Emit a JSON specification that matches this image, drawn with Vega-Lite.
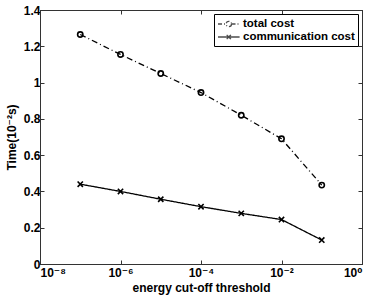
{
  "$schema": "https://vega.github.io/schema/vega-lite/v6.json",
  "width": 322,
  "height": 254,
  "autosize": {"type": "none"},
  "padding": {"left": 40, "top": 10, "right": 12, "bottom": 33},
  "config": {
    "font": "Liberation Sans",
    "view": {"stroke": "#333", "strokeWidth": 1},
    "axis": {
      "labelFont": "Liberation Sans, DejaVu Sans", "labelFontWeight": "bold", "labelFontSize": 12, "labelColor": "#000",
      "titleFont": "Liberation Sans, DejaVu Sans", "titleFontWeight": "bold", "titleFontSize": 12, "titleColor": "#000",
      "domainColor": "#333", "tickColor": "#333", "tickSize": -4, "grid": false, "labelPadding": 4
    }
  },
  "data": {"values": [
    {"series": "total cost", "threshold": 1e-7, "time": 1.265},
    {"series": "total cost", "threshold": 1e-6, "time": 1.155},
    {"series": "total cost", "threshold": 1e-5, "time": 1.05},
    {"series": "total cost", "threshold": 1e-4, "time": 0.945},
    {"series": "total cost", "threshold": 1e-3, "time": 0.82},
    {"series": "total cost", "threshold": 1e-2, "time": 0.69},
    {"series": "total cost", "threshold": 1e-1, "time": 0.435},
    {"series": "communication cost", "threshold": 1e-7, "time": 0.44},
    {"series": "communication cost", "threshold": 1e-6, "time": 0.40},
    {"series": "communication cost", "threshold": 1e-5, "time": 0.357},
    {"series": "communication cost", "threshold": 1e-4, "time": 0.316},
    {"series": "communication cost", "threshold": 1e-3, "time": 0.279},
    {"series": "communication cost", "threshold": 1e-2, "time": 0.245},
    {"series": "communication cost", "threshold": 1e-1, "time": 0.132}
  ]},
  "resolve": {"axis": {"x": "independent", "y": "independent"}},
  "layer": [
    {
      "mark": {"type": "line", "color": "#000", "strokeWidth": 1.3},
      "encoding": {
        "x": {"field": "threshold", "type": "quantitative",
          "scale": {"type": "log", "domain": [1e-8, 1], "nice": false},
          "axis": {"title": "energy cut-off threshold", "values": [1e-8, 1e-6, 1e-4, 1e-2, 1], "titlePadding": 4, "labelPadding": 7,
            "labelExpr": "round(log(datum.value)/LN10) == -8 ? '10⁻⁸' : round(log(datum.value)/LN10) == -6 ? '10⁻⁶' : round(log(datum.value)/LN10) == -4 ? '10⁻⁴' : round(log(datum.value)/LN10) == -2 ? '10⁻²' : '10⁰'"}},
        "y": {"field": "time", "type": "quantitative",
          "scale": {"domain": [0, 1.4], "nice": false},
          "axis": {"title": "Time(10⁻²s)", "values": [0, 0.2, 0.4, 0.6, 0.8, 1, 1.2, 1.4], "format": "~g", "titlePadding": 5}},
        "detail": {"field": "series"},
        "strokeDash": {"condition": {"test": "datum.series === 'total cost'", "value": [6, 3, 1, 3]}, "value": [1, 0]}
      }
    },
    {
      "mark": {"type": "point", "filled": false, "color": "#000", "strokeWidth": 1.6, "opacity": 1},
      "encoding": {
        "x": {"field": "threshold", "type": "quantitative", "axis": {"orient": "top", "labels": false, "title": null, "values": [1e-8, 1e-6, 1e-4, 1e-2, 1]}},
        "y": {"field": "time", "type": "quantitative", "axis": {"orient": "right", "labels": false, "title": null, "values": [0, 0.2, 0.4, 0.6, 0.8, 1, 1.2, 1.4]}},
        "shape": {"condition": {"test": "datum.series === 'total cost'", "value": "circle"}, "value": "M-1,-1L1,1M-1,1L1,-1"},
        "size": {"value": 28}
      }
    },
    {
      "transform": [{"filter": "false"}],
      "mark": {"type": "point", "filled": false, "color": "#000", "strokeWidth": 1.3},
      "encoding": {
        "x": {"field": "threshold", "type": "quantitative", "axis": null},
        "y": {"field": "time", "type": "quantitative", "axis": null},
        "shape": {"field": "series", "type": "nominal",
          "scale": {"domain": ["total cost", "communication cost"],
            "range": ["M-1,0L0.35,0M1.25,0L2.6,0M1.25,0A0.45,0.45 0 1,1 0.35,0A0.45,0.45 0 1,1 1.25,0", "M-1,0L2.6,0M0.45,-0.35L1.15,0.35M0.45,0.35L1.15,-0.35"]},
          "legend": {
            "title": null, "orient": "top-right", "offset": 4,
            "strokeColor": "#000", "fillColor": "#fff", "padding": 3, "cornerRadius": 0,
            "labelFont": "Liberation Sans", "labelFontWeight": "bold", "labelFontSize": 11.5, "labelColor": "#000",
            "symbolSize": 144, "symbolStrokeColor": "#000", "symbolStrokeWidth": 1.3, "symbolFillColor": "transparent",
            "rowPadding": 0, "labelOffset": 12
          }
        },
        "strokeDash": {"field": "series", "type": "nominal",
          "scale": {"domain": ["total cost", "communication cost"], "range": [[4, 2, 1, 2], [1, 0]]}}
      }
    }
  ]
}
